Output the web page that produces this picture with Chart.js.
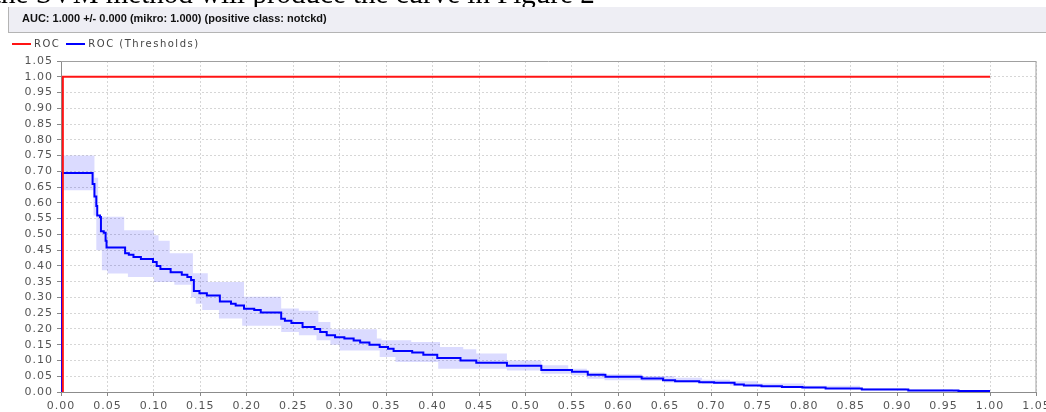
<!DOCTYPE html>
<html>
<head>
<meta charset="utf-8">
<script src="https://cdn.jsdelivr.net/npm/chart.js@4.4.1/dist/chart.umd.min.js"></script>
<style>
  html, body { margin: 0; padding: 0; background: #fff; overflow: hidden; }
  #wrap { position: relative; width: 1046px; height: 412px; overflow: hidden; }
  #caption { position: absolute; left: -7px; top: -21px; font: 29px "Liberation Serif", serif; line-height: 29px; color: #000; white-space: nowrap; }
  #header { position: absolute; left: 8px; top: 7px; right: 0; height: 25px; background: #eeeef4; border-left: 1px solid #b4b4b4; border-bottom: 1px solid #b4b4b4; }
  #header span { position: absolute; left: 13px; top: 5px; font: bold 11px "Liberation Sans", Arial, sans-serif; color: #111; }
  #legend { position: absolute; left: 12px; top: 38px; font: 10px "DejaVu Sans", sans-serif; letter-spacing: 1.5px; color: #444; display: flex; align-items: center; }
  #legend .sw { display: inline-block; width: 19px; height: 2px; margin-right: 3px; }
  #legend .item { display: flex; align-items: center; margin-right: 6px; }
  canvas { position: absolute; left: 0; top: 0; }
</style>
</head>
<body>
<div id="wrap">
  <canvas id="rocChart" width="1046" height="412"></canvas>
  <div id="caption">the SVM method will produce the curve in Figure 2</div>
  <div id="header"><span>AUC: 1.000 +/- 0.000 (mikro: 1.000) (positive class: notckd)</span></div>
  <div id="legend"></div>
</div>
<script>
const seriesNames = ['ROC', 'ROC (Thresholds)'];
const seriesColors = ['rgb(255, 20, 20)', 'rgb(0, 0, 255)'];
const bandColor = 'rgba(0, 0, 255, 0.14)';

// red ROC curve
const rocX = [0.002, 0.002, 1.0];
const rocY = [0, 1.0, 1.0];

// blue ROC (thresholds) curve, step points
const thrX = [0, 0, 0.034, 0.036, 0.038, 0.039, 0.042, 0.043, 0.046, 0.048, 0.049, 0.069, 0.073, 0.078, 0.086, 0.099,
  0.103, 0.107, 0.118, 0.130, 0.136, 0.140, 0.143, 0.149, 0.157, 0.171, 0.183, 0.188, 0.197, 0.208, 0.215, 0.237,
  0.241, 0.248, 0.260, 0.273, 0.279, 0.286, 0.295, 0.305, 0.315, 0.322, 0.332, 0.343, 0.352, 0.358, 0.378, 0.390,
  0.405, 0.430, 0.447, 0.480, 0.517, 0.550, 0.567, 0.586, 0.625, 0.648, 0.661, 0.687, 0.703, 0.725, 0.735, 0.754,
  0.776, 0.798, 0.823, 0.862, 0.912, 0.966, 1.0];
const thrY = [0, 0.695, 0.660, 0.620, 0.590, 0.560, 0.555, 0.510, 0.505, 0.480, 0.458, 0.440, 0.435, 0.428, 0.422, 0.412,
  0.400, 0.390, 0.380, 0.372, 0.365, 0.355, 0.320, 0.313, 0.306, 0.287, 0.280, 0.274, 0.264, 0.260, 0.252, 0.232,
  0.226, 0.219, 0.206, 0.200, 0.190, 0.180, 0.174, 0.170, 0.163, 0.157, 0.150, 0.143, 0.137, 0.130, 0.125, 0.118,
  0.108, 0.100, 0.093, 0.083, 0.070, 0.064, 0.055, 0.048, 0.043, 0.037, 0.034, 0.031, 0.029, 0.024, 0.021, 0.018,
  0.016, 0.014, 0.011, 0.008, 0.005, 0.003, 0.003];

// spread band around the threshold curve (shared x, step values)
const bandX = [0, 0.035, 0.036, 0.038, 0.040, 0.044, 0.050, 0.068, 0.072, 0.100, 0.105, 0.117, 0.122, 0.140, 0.142,
  0.145, 0.152, 0.158, 0.170, 0.195, 0.197, 0.237, 0.256, 0.275, 0.277, 0.290, 0.300, 0.340, 0.343, 0.345, 0.360,
  0.377, 0.406, 0.408, 0.433, 0.447, 0.480, 0.517, 0.546, 0.550, 0.566, 0.585, 0.625, 0.650, 0.660, 0.690, 0.720,
  0.750, 0.800, 0.860, 0.910, 0.960, 1.0];
const upperY = [0.750, 0.750, 0.680, 0.680, 0.556, 0.556, 0.556, 0.513, 0.513, 0.497, 0.480, 0.440, 0.440, 0.440, 0.377,
  0.377, 0.377, 0.349, 0.349, 0.349, 0.302, 0.265, 0.258, 0.258, 0.222, 0.199, 0.199, 0.170, 0.170, 0.164, 0.164,
  0.159, 0.159, 0.143, 0.136, 0.122, 0.100, 0.085, 0.074, 0.074, 0.062, 0.056, 0.051, 0.051, 0.045, 0.039, 0.034,
  0.027, 0.020, 0.013, 0.009, 0.006, 0.006];
const lowerY = [0.640, 0.560, 0.560, 0.450, 0.450, 0.386, 0.376, 0.376, 0.365, 0.349, 0.349, 0.349, 0.340, 0.300, 0.300,
  0.280, 0.260, 0.260, 0.233, 0.210, 0.210, 0.190, 0.180, 0.164, 0.164, 0.150, 0.132, 0.132, 0.111, 0.111, 0.095,
  0.095, 0.074, 0.074, 0.074, 0.074, 0.068, 0.058, 0.058, 0.053, 0.042, 0.037, 0.035, 0.030, 0.030, 0.026, 0.021,
  0.016, 0.011, 0.006, 0.003, 0.001, 0.001];

const axisMin = 0;
const axisMax = 1.05;
const tickStep = 0.05;

function toPoints(xs, ys) {
  return xs.map((x, i) => ({ x: x, y: ys[i] }));
}

// html legend
const legendEl = document.getElementById('legend');
seriesNames.forEach((name, i) => {
  const item = document.createElement('span');
  item.className = 'item';
  item.innerHTML = `<span class="sw" style="background:${seriesColors[i]}"></span>${name}`;
  legendEl.appendChild(item);
});

const frame = {
  id: 'frame',
  beforeDraw(chart) {
    chart.ctx.letterSpacing = '1px';
  },
  afterDraw(chart) {
    const { ctx, chartArea: a } = chart;
    ctx.save();
    ctx.strokeStyle = '#a0a0a0';
    ctx.lineWidth = 1;
    ctx.beginPath();
    ctx.moveTo(a.left, a.top + 0.5);
    ctx.lineTo(a.right - 0.5, a.top + 0.5);
    ctx.lineTo(a.right - 0.5, a.bottom);
    ctx.stroke();
    ctx.restore();
  }
};

function axisOpts(isX) {
  return {
    type: 'linear',
    min: axisMin,
    max: axisMax,
    grid: { color: '#d6d6d6', tickColor: '#888', tickLength: 4, tickBorderDash: [10, 0] },
    border: { color: '#8c8c8c', width: 1, dash: [2, 2] },
    ticks: {
      stepSize: tickStep,
      autoSkip: false,
      maxRotation: 0,
      padding: 4,
      color: '#555',
      font: { family: 'DejaVu Sans', size: 11 },
      callback: v => Number(v).toFixed(2)
    },
    afterFit(scale) {
      if (isX) scale.height = 20;
      else scale.width = 61;
      scale.paddingLeft = 0;
      scale.paddingRight = 0;
      scale.paddingTop = 0;
      scale.paddingBottom = 0;
    }
  };
}

new Chart(document.getElementById('rocChart'), {
  type: 'line',
  data: {
    datasets: [
      {
        label: seriesNames[0],
        data: toPoints(rocX, rocY),
        borderColor: seriesColors[0],
        borderWidth: 2,
        pointRadius: 0,
        fill: false,
        order: 0
      },
      {
        label: seriesNames[1],
        data: toPoints(thrX, thrY),
        borderColor: seriesColors[1],
        borderWidth: 2,
        pointRadius: 0,
        stepped: true,
        fill: false,
        order: 1
      },
      {
        label: 'upper',
        data: toPoints(bandX, upperY),
        borderWidth: 0,
        borderColor: 'rgba(0,0,0,0)',
        pointRadius: 0,
        stepped: true,
        fill: false,
        order: 2
      },
      {
        label: 'lower',
        data: toPoints(bandX, lowerY),
        borderWidth: 0,
        borderColor: 'rgba(0,0,0,0)',
        backgroundColor: bandColor,
        pointRadius: 0,
        stepped: true,
        fill: '-1',
        order: 3
      }
    ]
  },
  options: {
    responsive: false,
    animation: false,
    parsing: false,
    layout: { padding: { top: 61, right: 9.5, left: 0, bottom: 0 } },
    scales: { x: axisOpts(true), y: axisOpts(false) },
    plugins: {
      legend: { display: false },
      tooltip: { enabled: false }
    }
  },
  plugins: [frame]
});
</script>
</body>
</html>
